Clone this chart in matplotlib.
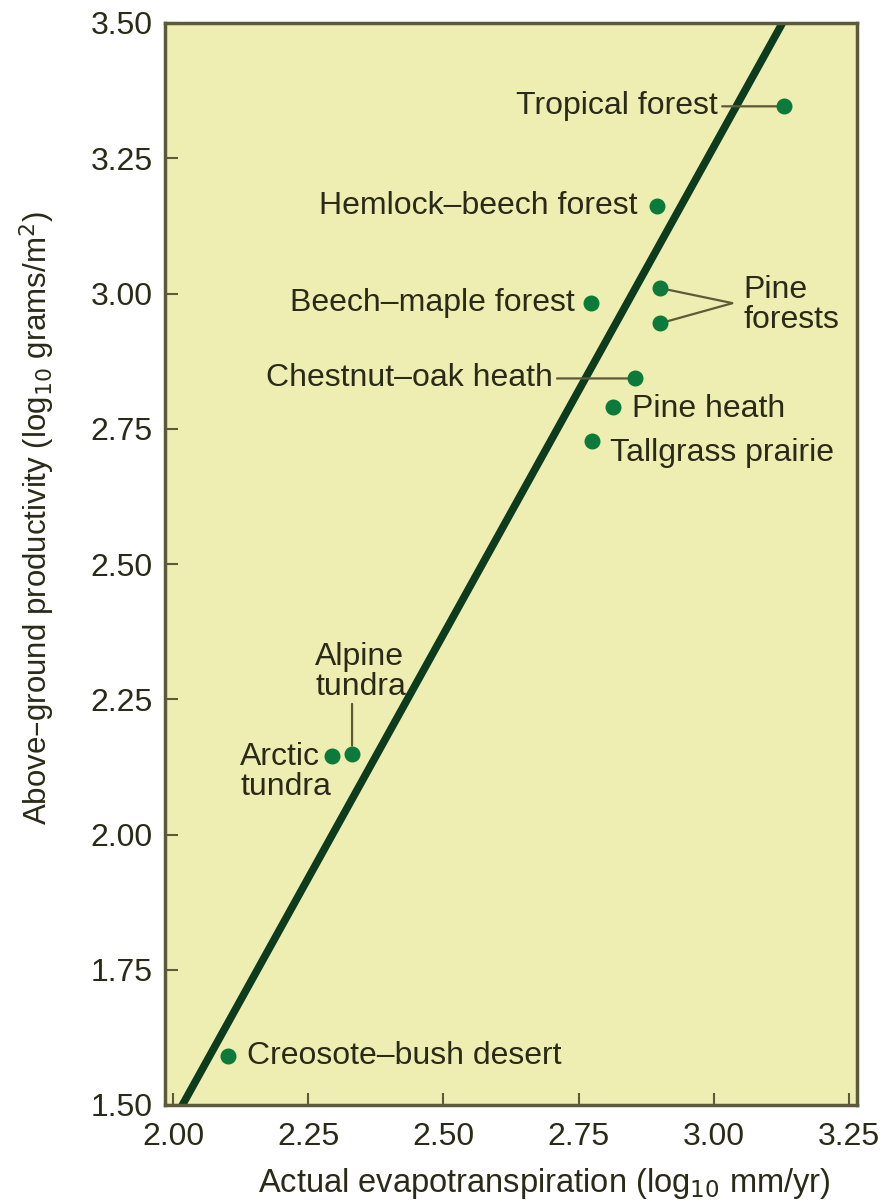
import matplotlib.pyplot as plt
import numpy as np

plt.rcParams["font.family"] = ["Liberation Sans", "DejaVu Sans"]

# biome data: log10 actual evapotranspiration vs log10 above-ground productivity
biomes = ["Tropical forest", "Hemlock–beech forest", "Beech–maple forest",
          "Pine forest 1", "Pine forest 2", "Chestnut–oak heath", "Pine heath",
          "Tallgrass prairie", "Arctic tundra", "Alpine tundra", "Creosote–bush desert"]
aet = [3.13, 2.895, 2.773, 2.901, 2.901, 2.854, 2.813, 2.775, 2.294, 2.331, 2.102]
prod = [3.346, 3.162, 2.983, 3.010, 2.945, 2.843, 2.790, 2.728, 2.146, 2.149, 1.591]

# fitted regression line
slope = 1.802
intercept = -2.135

x_ticks = [2.00, 2.25, 2.50, 2.75, 3.00, 3.25]
y_ticks = [1.50, 1.75, 2.00, 2.25, 2.50, 2.75, 3.00, 3.25, 3.50]

txt = "#2a2a18"
frame = "#5b5b3c"
conn = "#5c5a38"
fs = 23

fig = plt.figure(figsize=(8.94, 12.03), dpi=100)
ax = fig.add_axes([165 / 894, 1 - 1105 / 1203, 692 / 894, 1082 / 1203])
ax.set_facecolor("#EFEEB2")

xs = np.array([1.9, 3.3])
ax.plot(xs, slope * xs + intercept, color="#0C3B1E", lw=5.5, solid_capstyle="butt", zorder=2)
ax.plot(aet, prod, "o", color="#0B7A3B", markersize=10.5, zorder=4)

ax.set_xlim(1.985, 3.265)
ax.set_ylim(1.5, 3.5)
ax.set_xticks(x_ticks)
ax.set_yticks(y_ticks)
ax.set_xticklabels([f"{v:.2f}" for v in x_ticks])
ax.set_yticklabels([f"{v:.2f}" for v in y_ticks])
ax.tick_params(direction="in", length=9, width=1.5, color=frame, labelsize=fs,
               labelcolor=txt)
ax.tick_params(axis="x", pad=12)
ax.tick_params(axis="y", pad=9)
for s in ax.spines.values():
    s.set_color(frame)
    s.set_linewidth(2.5)

ax.set_xlabel("Actual evapotranspiration (log$_{10}$ mm/yr)", fontsize=23.5, color=txt)
ax.set_ylabel("Above–ground productivity (log$_{10}$ grams/m$^2$)", fontsize=22.5, color=txt)
ax.xaxis.set_label_coords(0.548, -0.056)
ax.yaxis.set_label_coords(-0.156, 0.542)

line_kw = dict(arrowstyle="-", color=conn, lw=1.6, shrinkA=1, shrinkB=5)

def lab(i, text, dx, dy, ha="left", va="center", line=False):
    ax.annotate(text, (aet[i], prod[i]), xytext=(dx, dy), textcoords="offset pixels",
                ha=ha, va=va, fontsize=fs, color=txt, linespacing=1.0,
                arrowprops=line_kw if line else None, zorder=3)

lab(0, "Tropical forest", -66, 0, ha="right", line=True)
lab(1, "Hemlock–beech forest", -19, 0, ha="right")
lab(2, "Beech–maple forest", -16, 0, ha="right")
lab(5, "Chestnut–oak heath", -82, 0, ha="right", line=True)
lab(6, "Pine heath", 19, -2)
lab(7, "Tallgrass prairie", 18, -12)
lab(10, "Creosote–bush desert", 19, 0)
lab(8, "Arctic\ntundra", -92, 14, va="top")

# alpine tundra label with vertical leader
ax.annotate("Alpine\ntundra", (aet[9], prod[9]), xytext=(-37, 52), textcoords="offset pixels",
            ha="left", va="bottom", fontsize=fs, color=txt, linespacing=1.0, zorder=3)
ax.annotate("", (aet[9], prod[9]), xytext=(0, 50), textcoords="offset pixels",
            arrowprops=dict(arrowstyle="-", color=conn, lw=1.6, shrinkA=0, shrinkB=6))

# pine forests: two leaders meeting at one point
ax.annotate("Pine\nforests", (aet[3], prod[3]), xytext=(83, -17), textcoords="offset pixels",
            ha="left", va="center", fontsize=fs, color=txt, linespacing=1.0, zorder=3)
for i, dy in [(3, -15), (4, 20)]:
    ax.annotate("", (aet[i], prod[i]), xytext=(72, dy), textcoords="offset pixels",
                arrowprops=dict(arrowstyle="-", color=conn, lw=1.6, shrinkA=0, shrinkB=6))

fig.savefig("out.png", dpi=100)
